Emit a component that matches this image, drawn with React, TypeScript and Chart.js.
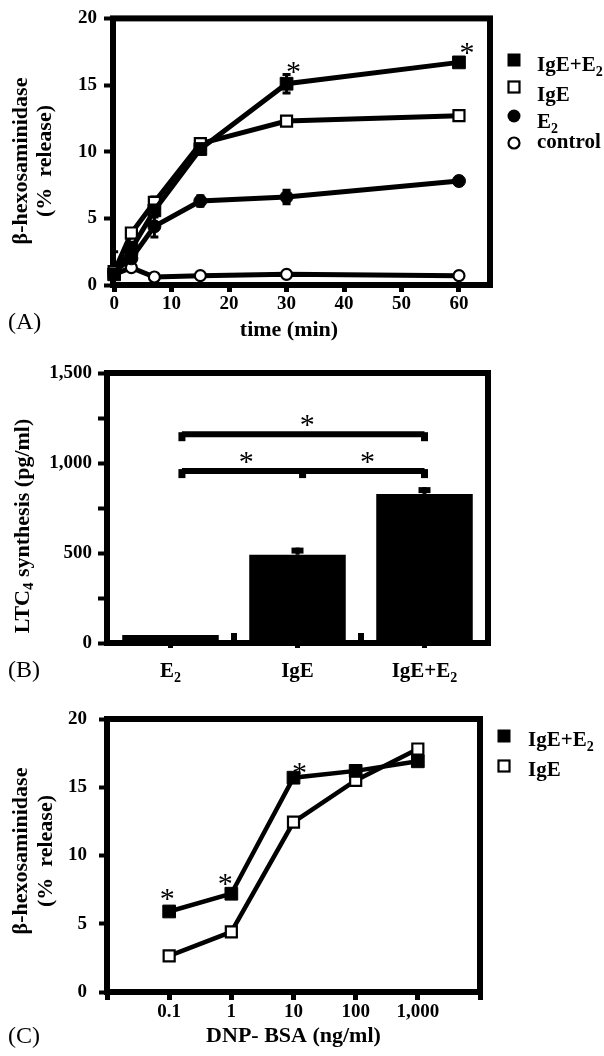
import React, { useEffect, useRef } from 'react';
import { Chart, registerables } from 'chart.js';

Chart.register(...registerables);

const SERIF = '"Liberation Serif", "Times New Roman", serif';

// ---------------- Panel A data ----------------
const timeA = [0, 3, 7, 15, 30, 60];
const xTicksA = [0, 10, 20, 30, 40, 50, 60];
const yTicksA = [0, 5, 10, 15, 20];
const namesA = ['IgE+E_2', 'IgE', 'E_2', 'control'];
const igeE2A = [0.8, 2.7, 5.6, 10.2, 15.1, 16.7];
const igeA = [1.0, 3.9, 6.2, 10.6, 12.3, 12.7];
const e2A = [1.0, 2.0, 4.4, 6.3, 6.6, 7.8];
const controlA = [0.8, 1.3, 0.6, 0.7, 0.8, 0.7];
const igeE2ErrA = [1.7, 0.5, 0.5, 0.4, 0.7, 0.3];
const igeErrA = [0.5, 0.3, 0.4, 0.3, 0.2, 0.2];
const e2ErrA = [0.5, 0.4, 0.8, 0.4, 0.5, 0.3];
const controlErrA = [0.3, 0.2, 0.1, 0.1, 0.1, 0.1];
const starsA = [
  { series: 0, index: 4 },
  { series: 0, index: 5 },
];

// ---------------- Panel B data ----------------
const categoriesB = ['E_2', 'IgE', 'IgE+E_2'];
const valuesB = [45, 490, 828];
const errorsB = [0, 40, 38];
const yTicksB = [0, 250, 500, 750, 1000, 1250, 1500];
const yTickLabelsB = ['0', '', '500', '', '1,000', '', '1,500'];
const bracketsB = [
  { from: 0.09, to: 2, value: 1160, notches: [] as number[] },
  { from: 0.09, to: 2, value: 955, notches: [1.04] },
];

// ---------------- Panel C data ----------------
const doseC = [0.1, 1, 10, 100, 1000];
const xTicksC = [0.01, 0.1, 1, 10, 100, 1000, 10000];
const xTickLabelsC = ['', '0.1', '1', '10', '100', '1,000', ''];
const yTicksC = [0, 5, 10, 15, 20];
const namesC = ['IgE+E_2', 'IgE'];
const igeE2C = [5.9, 7.2, 15.7, 16.2, 16.9];
const igeC = [2.65, 4.4, 12.45, 15.5, 17.8];
const starsC = [
  { series: 0, index: 0 },
  { series: 0, index: 1 },
  { series: 0, index: 2 },
];

// ---------------- styles ----------------
const STAR_SIZE = 30;
const starOffsetsA = [
  [7, -16],
  [8, -14],
];
const starOffsetsC = [
  [-2, -17],
  [-6, -14],
  [6, -9],
];
type MarkerKind = 'filledSquare' | 'openSquare' | 'filledCircle' | 'openCircle';
const markersA: MarkerKind[] = ['filledSquare', 'openSquare', 'filledCircle', 'openCircle'];
const markersC: MarkerKind[] = ['filledSquare', 'openSquare'];

function drawRich(
  ctx: CanvasRenderingContext2D,
  text: string,
  x: number,
  y: number,
  size: number,
  weight: string,
  align: 'left' | 'center' | 'right'
) {
  const parts: { t: string; sub: boolean }[] = [];
  let buf = '';
  for (let i = 0; i < text.length; i++) {
    if (text[i] === '_' && i + 1 < text.length) {
      if (buf) parts.push({ t: buf, sub: false });
      buf = '';
      parts.push({ t: text[i + 1], sub: true });
      i++;
    } else buf += text[i];
  }
  if (buf) parts.push({ t: buf, sub: false });
  const subSize = Math.round(size * 0.68);
  const fMain = `${weight} ${size}px ${SERIF}`;
  const fSub = `${weight} ${subSize}px ${SERIF}`;
  let total = 0;
  const widths = parts.map((p) => {
    ctx.font = p.sub ? fSub : fMain;
    const w = ctx.measureText(p.t).width;
    total += w;
    return w;
  });
  let cx = align === 'left' ? x : align === 'center' ? x - total / 2 : x - total;
  ctx.textAlign = 'left';
  ctx.textBaseline = 'middle';
  ctx.fillStyle = '#000';
  parts.forEach((p, i) => {
    ctx.font = p.sub ? fSub : fMain;
    ctx.fillText(p.t, cx, p.sub ? y + size * 0.3 : y);
    cx += widths[i];
  });
}

function drawRotated(ctx: CanvasRenderingContext2D, text: string, x: number, y: number, size: number) {
  ctx.save();
  ctx.translate(x, y);
  ctx.rotate(-Math.PI / 2);
  drawRich(ctx, text, 0, 0, size, 'bold', 'center');
  ctx.restore();
}

function drawStar(ctx: CanvasRenderingContext2D, x: number, y: number, size = STAR_SIZE) {
  ctx.save();
  ctx.font = `normal ${size}px ${SERIF}`;
  ctx.textAlign = 'left';
  ctx.textBaseline = 'alphabetic';
  ctx.fillStyle = '#000';
  const m = ctx.measureText('*');
  const w = m.actualBoundingBoxRight + m.actualBoundingBoxLeft;
  ctx.fillText('*', x - w / 2 + m.actualBoundingBoxLeft, y + (m.actualBoundingBoxAscent - m.actualBoundingBoxDescent) / 2);
  ctx.restore();
}

function drawMarker(ctx: CanvasRenderingContext2D, kind: MarkerKind, x: number, y: number) {
  ctx.save();
  ctx.fillStyle = '#000';
  ctx.strokeStyle = '#000';
  if (kind === 'filledSquare') ctx.fillRect(x - 6.5, y - 6.5, 13, 13);
  else if (kind === 'openSquare') {
    ctx.fillStyle = '#fff';
    ctx.lineWidth = 2.2;
    ctx.fillRect(x - 5.5, y - 5.5, 11, 11);
    ctx.strokeRect(x - 5.5, y - 5.5, 11, 11);
  } else if (kind === 'filledCircle') {
    ctx.beginPath();
    ctx.arc(x, y, 6.5, 0, Math.PI * 2);
    ctx.fill();
  } else {
    ctx.fillStyle = '#fff';
    ctx.lineWidth = 2.2;
    ctx.beginPath();
    ctx.arc(x, y, 5.5, 0, Math.PI * 2);
    ctx.fill();
    ctx.stroke();
  }
  ctx.restore();
}

function drawBox(chart: any) {
  const { ctx, chartArea: a } = chart;
  ctx.save();
  ctx.strokeStyle = '#000';
  ctx.lineWidth = 6;
  ctx.strokeRect(a.left, a.top, a.right - a.left, a.bottom - a.top);
  ctx.restore();
}

function pointStyle(kind: MarkerKind) {
  switch (kind) {
    case 'filledSquare':
      return { pointStyle: 'rect', pointRadius: 9, pointBackgroundColor: '#000', pointBorderColor: '#000', pointBorderWidth: 1 };
    case 'openSquare':
      return { pointStyle: 'rect', pointRadius: 7.8, pointBackgroundColor: '#fff', pointBorderColor: '#000', pointBorderWidth: 2.2 };
    case 'filledCircle':
      return { pointStyle: 'circle', pointRadius: 6.5, pointBackgroundColor: '#000', pointBorderColor: '#000', pointBorderWidth: 1 };
    default:
      return { pointStyle: 'circle', pointRadius: 5.5, pointBackgroundColor: '#fff', pointBorderColor: '#000', pointBorderWidth: 2.2 };
  }
}

const tickFont = (size: number) => ({ family: SERIF, size, weight: 'bold' as const });

function buildA(canvas: HTMLCanvasElement) {
  const series = [igeE2A, igeA, e2A, controlA];
  const errs = [igeE2ErrA, igeErrA, e2ErrA, controlErrA];
  const decor = {
    id: 'decorA',
    beforeDatasetsDraw(chart: any) {
      drawBox(chart);
      const { ctx, scales } = chart;
      ctx.save();
      ctx.strokeStyle = '#000';
      ctx.lineWidth = 3;
      series.forEach((vals, s) => {
        vals.forEach((v, i) => {
          const px = scales.x.getPixelForValue(timeA[i]);
          const y1 = scales.y.getPixelForValue(v + errs[s][i]);
          const y2 = scales.y.getPixelForValue(Math.max(0, v - errs[s][i]));
          ctx.beginPath();
          ctx.moveTo(px, y1);
          ctx.lineTo(px, y2);
          ctx.moveTo(px - 4, y1);
          ctx.lineTo(px + 4, y1);
          ctx.moveTo(px - 4, y2);
          ctx.lineTo(px + 4, y2);
          ctx.stroke();
        });
      });
      ctx.restore();
    },
    afterDraw(chart: any) {
      const { ctx, chartArea: a, scales } = chart;
      starsA.forEach((st, k) => {
        const px = scales.x.getPixelForValue(timeA[st.index]);
        const py = scales.y.getPixelForValue(series[st.series][st.index]);
        drawStar(ctx, px + starOffsetsA[k][0], py + starOffsetsA[k][1]);
      });
      drawRotated(ctx, 'β-hexosaminidase', 21, 161, 22);
      drawRotated(ctx, '(%  release)', 45, 161, 22);
      drawRich(ctx, 'time (min)', 289, 330, 22, 'bold', 'center');
      drawRich(ctx, '(A)', 8, 323, 24, 'normal', 'left');
      const mk = [60, 87, 116, 143];
      const tx = [66, 96, 123, 143];
      namesA.forEach((n, i) => {
        drawMarker(ctx, markersA[i], a.right + 24, mk[i]);
        drawRich(ctx, n, a.right + 47, tx[i], 21, 'bold', 'left');
      });
    },
  };
  return new Chart(canvas, {
    type: 'line',
    data: {
      datasets: series.map((vals, s) => ({
        label: namesA[s],
        data: timeA.map((t, i) => ({ x: t, y: vals[i] })),
        borderColor: '#000',
        borderWidth: 5,
        clip: false,
        ...pointStyle(markersA[s]),
      })) as any,
    },
    options: {
      animation: false,
      responsive: false,
      devicePixelRatio: 1,
      events: [],
      layout: { autoPadding: false, padding: { left: 0, top: 16, right: 114, bottom: 0 } },
      plugins: { legend: { display: false }, tooltip: { enabled: false } },
      scales: {
        x: {
          type: 'linear',
          min: -0.2,
          max: 65.4,
          afterBuildTicks: (s: any) => {
            s.ticks = xTicksA.map((v) => ({ value: v }));
          },
          afterFit: (s: any) => {
            s.height = 65;
          },
          border: { display: false },
          grid: { drawOnChartArea: false, drawTicks: true, tickLength: 7, tickWidth: 5, tickColor: '#000' },
          ticks: { padding: 1, color: '#000', font: tickFont(19), autoSkip: false, maxRotation: 0, callback: (v: any) => String(v) },
        },
        y: {
          min: 0,
          max: 20,
          afterBuildTicks: (s: any) => {
            s.ticks = yTicksA.map((v) => ({ value: v }));
          },
          afterFit: (s: any) => {
            s.width = 113;
          },
          border: { display: false },
          grid: { drawOnChartArea: false, drawTicks: true, tickLength: 9, tickWidth: 4, tickColor: '#000' },
          ticks: { padding: 7, color: '#000', font: tickFont(19), autoSkip: false, callback: (v: any) => String(v) },
        },
      },
    } as any,
    plugins: [decor],
  });
}

function buildB(canvas: HTMLCanvasElement) {
  const decor = {
    id: 'decorB',
    beforeDatasetsDraw(chart: any) {
      drawBox(chart);
    },
    afterDatasetsDraw(chart: any) {
      const { ctx, chartArea: a, scales } = chart;
      ctx.save();
      ctx.fillStyle = '#000';
      ctx.strokeStyle = '#000';
      // error bars
      valuesB.forEach((v, i) => {
        if (!errorsB[i]) return;
        const px = scales.x.getPixelForValue(i);
        const top = scales.y.getPixelForValue(v + errorsB[i]);
        const base = scales.y.getPixelForValue(v);
        ctx.lineWidth = 4;
        ctx.beginPath();
        ctx.moveTo(px, base);
        ctx.lineTo(px, top);
        ctx.stroke();
        ctx.lineWidth = 6;
        ctx.beginPath();
        ctx.moveTo(px - 6, top + 3);
        ctx.lineTo(px + 6, top + 3);
        ctx.stroke();
      });
      // small marks between categories
      for (let i = 0; i < categoriesB.length - 1; i++) {
        const px = (scales.x.getPixelForTick(i) + scales.x.getPixelForTick(i + 1)) / 2;
        ctx.fillRect(px - 3, a.bottom - 10, 6, 10);
      }
      // significance brackets
      bracketsB.forEach((b) => {
        const yy = scales.y.getPixelForValue(b.value);
        const x1 = scales.x.getPixelForValue(b.from);
        const x2 = scales.x.getPixelForValue(b.to);
        ctx.lineWidth = 6;
        ctx.beginPath();
        ctx.moveTo(x1, yy);
        ctx.lineTo(x2, yy);
        ctx.stroke();
        const pts = [b.from, ...b.notches, b.to];
        pts.forEach((p) => {
          const px = scales.x.getPixelForValue(p);
          ctx.fillRect(px - 3.5, yy - 2, 7, 9);
        });
        for (let k = 0; k < pts.length - 1; k++) {
          const mid = scales.x.getPixelForValue((pts[k] + pts[k + 1]) / 2);
          drawStar(ctx, mid + 4, yy - 14);
        }
      });
      ctx.restore();
    },
    afterDraw(chart: any) {
      const { ctx, chartArea: a, scales } = chart;
      categoriesB.forEach((c, i) => {
        drawRich(ctx, c, scales.x.getPixelForTick(i), a.bottom + 29, 21, 'bold', 'center');
      });
      drawRotated(ctx, 'LTC_4 synthesis (pg/ml)', 23, 176, 22);
      drawRich(ctx, '(B)', 8, 321, 24, 'normal', 'left');
    },
  };
  return new Chart(canvas, {
    type: 'bar',
    data: {
      labels: categoriesB,
      datasets: [
        {
          label: 'LTC4',
          data: valuesB,
          backgroundColor: '#000',
          borderWidth: 0,
          categoryPercentage: 1,
          barPercentage: 0.76,
        },
      ],
    },
    options: {
      animation: false,
      responsive: false,
      devicePixelRatio: 1,
      events: [],
      layout: { autoPadding: false, padding: { left: 0, top: 23, right: 116, bottom: 0 } },
      plugins: { legend: { display: false }, tooltip: { enabled: false } },
      scales: {
        x: {
          type: 'category',
          offset: true,
          afterFit: (s: any) => {
            s.height = 47;
          },
          border: { display: false },
          grid: { offset: false, drawOnChartArea: false, drawTicks: true, tickLength: 5, tickWidth: 5, tickColor: '#000' },
          ticks: { display: false },
        },
        y: {
          min: 0,
          max: 1500,
          afterBuildTicks: (s: any) => {
            s.ticks = yTicksB.map((v) => ({ value: v }));
          },
          afterFit: (s: any) => {
            s.width = 107;
          },
          border: { display: false },
          grid: { drawOnChartArea: false, drawTicks: true, tickLength: 9, tickWidth: 4, tickColor: '#000' },
          ticks: {
            padding: 6,
            color: '#000',
            font: tickFont(19),
            autoSkip: false,
            callback: (_v: any, i: number) => yTickLabelsB[i],
          },
        },
      },
    } as any,
    plugins: [decor],
  });
}

function buildC(canvas: HTMLCanvasElement) {
  const series = [igeE2C, igeC];
  const decor = {
    id: 'decorC',
    beforeDatasetsDraw(chart: any) {
      drawBox(chart);
    },
    afterDraw(chart: any) {
      const { ctx, chartArea: a, scales } = chart;
      starsC.forEach((st, k) => {
        const px = scales.x.getPixelForValue(doseC[st.index]);
        const py = scales.y.getPixelForValue(series[st.series][st.index]);
        drawStar(ctx, px + starOffsetsC[k][0], py + starOffsetsC[k][1]);
      });
      drawRotated(ctx, 'β-hexosaminidase', 21, 161, 22);
      drawRotated(ctx, '(%  release)', 46, 161, 22);
      drawRich(ctx, 'DNP- BSA (ng/ml)', (a.left + a.right) / 2, 346, 22, 'bold', 'center');
      drawRich(ctx, '(C)', 8, 347, 24, 'normal', 'left');
      const mk = [46, 76];
      const tx = [51, 81];
      namesC.forEach((n, i) => {
        drawMarker(ctx, markersC[i], a.right + 24, mk[i]);
        drawRich(ctx, n, a.right + 48, tx[i], 21, 'bold', 'left');
      });
    },
  };
  return new Chart(canvas, {
    type: 'line',
    data: {
      datasets: series.map((vals, s) => ({
        label: namesC[s],
        data: doseC.map((d, i) => ({ x: d, y: vals[i] })),
        borderColor: '#000',
        borderWidth: 4.5,
        clip: false,
        ...pointStyle(markersC[s]),
      })) as any,
    },
    options: {
      animation: false,
      responsive: false,
      devicePixelRatio: 1,
      events: [],
      layout: { autoPadding: false, padding: { left: 0, top: 29, right: 124, bottom: 0 } },
      plugins: { legend: { display: false }, tooltip: { enabled: false } },
      scales: {
        x: {
          type: 'logarithmic',
          min: 0.01,
          max: 10000,
          afterBuildTicks: (s: any) => {
            s.ticks = xTicksC.map((v) => ({ value: v }));
          },
          afterFit: (s: any) => {
            s.height = 64;
          },
          border: { display: false },
          grid: { drawOnChartArea: false, drawTicks: true, tickLength: 8, tickWidth: 5, tickColor: '#000' },
          ticks: {
            padding: 1,
            color: '#000',
            font: tickFont(19),
            autoSkip: false,
            maxRotation: 0,
            callback: (_v: any, i: number) => xTickLabelsC[i],
          },
        },
        y: {
          min: 0,
          max: 20,
          afterBuildTicks: (s: any) => {
            s.ticks = yTicksC.map((v) => ({ value: v }));
          },
          afterFit: (s: any) => {
            s.width = 107;
          },
          border: { display: false },
          grid: { drawOnChartArea: false, drawTicks: true, tickLength: 8, tickWidth: 4, tickColor: '#000' },
          ticks: { padding: 12, color: '#000', font: tickFont(19), autoSkip: false, callback: (v: any) => String(v) },
        },
      },
    } as any,
    plugins: [decor],
  });
}

export default function App() {
  const refA = useRef<HTMLCanvasElement>(null);
  const refB = useRef<HTMLCanvasElement>(null);
  const refC = useRef<HTMLCanvasElement>(null);
  useEffect(() => {
    const charts = [buildA(refA.current!), buildB(refB.current!), buildC(refC.current!)];
    return () => charts.forEach((c) => c.destroy());
  }, []);
  return (
    <div style={{ position: 'absolute', left: 0, top: 0, width: 604, height: 1056, background: '#fff' }}>
      <canvas ref={refA} width={604} height={350} style={{ position: 'absolute', left: 0, top: 0 }} />
      <canvas ref={refB} width={604} height={340} style={{ position: 'absolute', left: 0, top: 350 }} />
      <canvas ref={refC} width={604} height={366} style={{ position: 'absolute', left: 0, top: 690 }} />
    </div>
  );
}
